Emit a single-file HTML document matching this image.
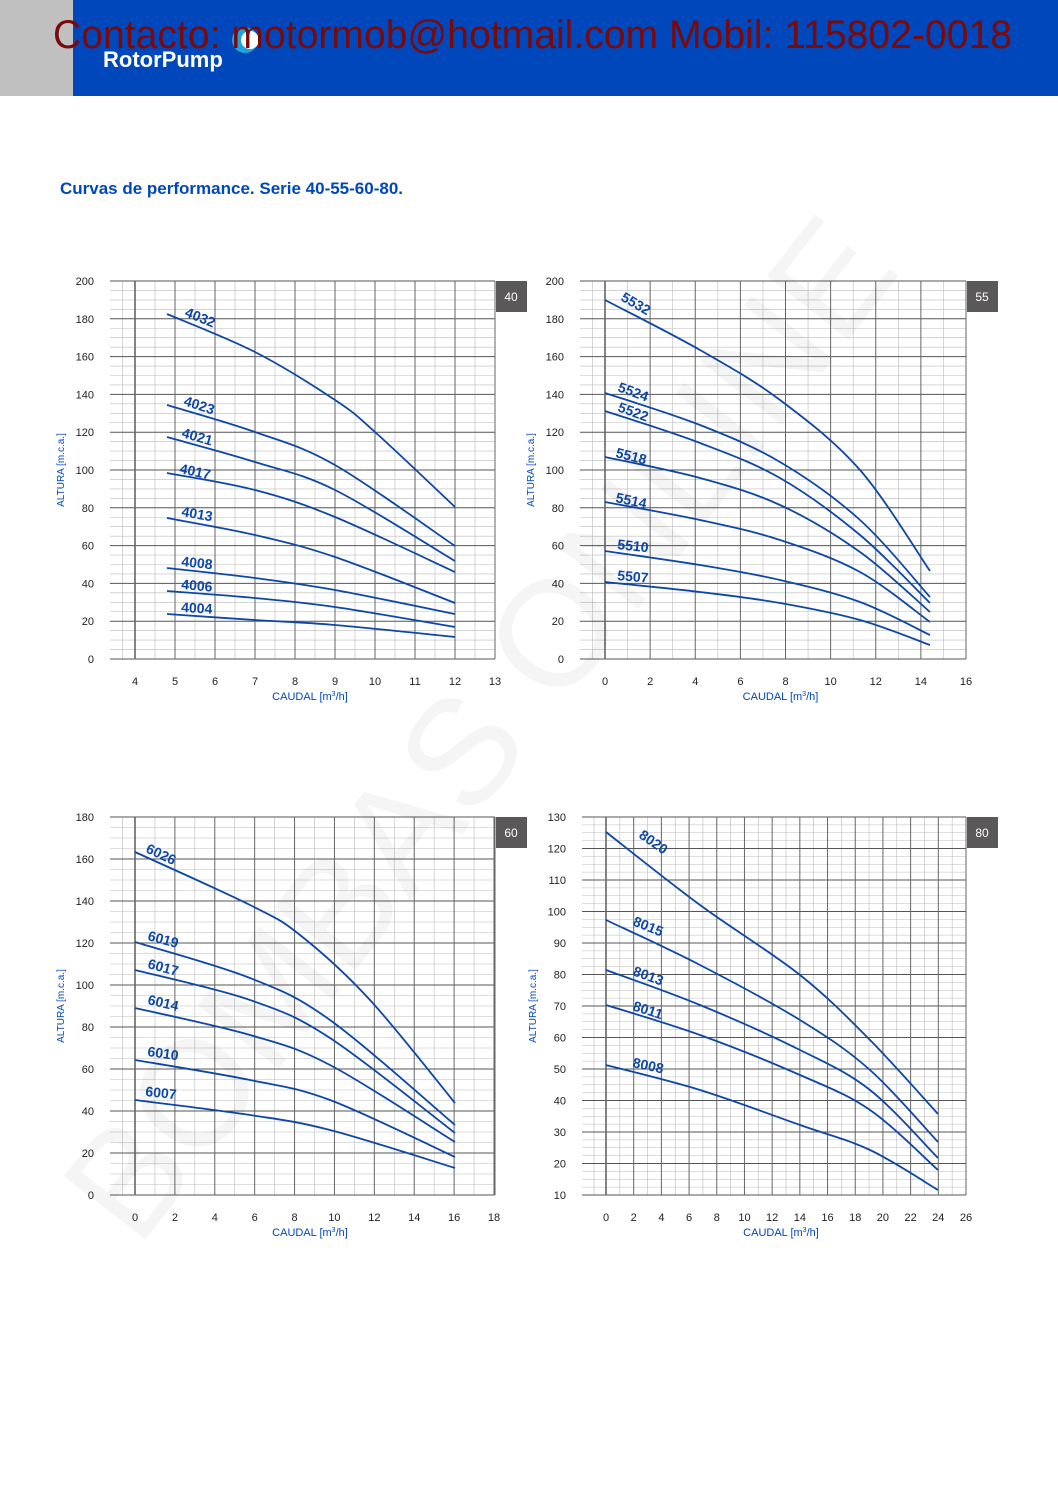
<!DOCTYPE html>
<html><head><meta charset="utf-8"><style>
html,body{margin:0;padding:0;background:#fff;}
body{width:1058px;height:1497px;position:relative;overflow:hidden;font-family:"Liberation Sans",sans-serif;}
</style></head><body>
<svg id="s" width="1058" height="1497" xmlns="http://www.w3.org/2000/svg" style="position:absolute;left:0;top:0">
<rect x="0" y="0" width="73" height="96" fill="#c0c0c0"/>
<rect x="73" y="0" width="985" height="96" fill="#0047bb"/>
<circle cx="245" cy="40" r="13" fill="#1fa3dc"/>
<circle cx="250" cy="40" r="9" fill="#fff"/>
<text x="103" y="67" font-size="22" font-weight="bold" fill="#fff" font-family="Liberation Sans,sans-serif">RotorPump</text>
<text x="53" y="48" font-size="40" fill="#7a0a0a" textLength="959" lengthAdjust="spacingAndGlyphs" font-family="Liberation Sans,sans-serif">Contacto: motormob@hotmail.com Mobil: 115802-0018</text>
<text x="60" y="194" font-size="17" font-weight="bold" fill="#0047bb" font-family="Liberation Sans,sans-serif">Curvas de performance. Serie 40-55-60-80.</text>
<g id="g"></g>
<text x="520" y="760" font-size="150" fill="#000" opacity="0.035" transform="rotate(-52 520 760)" text-anchor="middle" font-family="Liberation Sans,sans-serif">BOMBAS ONLINE</text>
</svg>
<script>
var g=document.getElementById('g'),h='';
function L(x1,y1,x2,y2,c,w){h+='<line x1="'+x1+'" y1="'+y1+'" x2="'+x2+'" y2="'+y2+'" stroke="'+c+'" stroke-width="'+w+'"/>';}
function T(x,y,t,o){o=o||{};h+='<text x="'+x+'" y="'+y+'" font-size="'+(o.s||11)+'" fill="'+(o.c||'#222')+'" text-anchor="'+(o.a||'middle')+'"'+(o.r!=null?' transform="rotate('+o.r+' '+x+' '+y+')"':'')+(o.b?' font-weight="bold"':'')+' font-family="Liberation Sans,sans-serif">'+t+'</text>';}
function smooth(p){var pts=[];for(var i=0;i<p.length;i+=2)pts.push([p[i],p[i+1]]);
 var d='M'+pts[0][0]+','+pts[0][1];
 for(var i=0;i<pts.length-1;i++){var p0=pts[i-1]||pts[i],p1=pts[i],p2=pts[i+1],p3=pts[i+2]||p2;
  d+=' C'+(p1[0]+(p2[0]-p0[0])/6).toFixed(1)+','+(p1[1]+(p2[1]-p0[1])/6).toFixed(1)+' '+(p2[0]-(p3[0]-p1[0])/6).toFixed(1)+','+(p2[1]-(p3[1]-p1[1])/6).toFixed(1)+' '+p2[0]+','+p2[1];}
 return d;}
function chart(c){
 var gl=c.gl,gr=c.gr,yt=c.yt,yb=c.yb;
 var ny=(c.ymax-c.ymin)/c.ystep,dy=(yb-yt)/ny;
 for(var i=0;i<ny;i++)for(var k=1;k<4;k++)L(gl,yt+i*dy+k*dy/4,gr,yt+i*dy+k*dy/4,'#bbb',0.6);
 var nx=c.xs.length;
 for(var i=0;i<nx-1;i++){var mx=(c.xs[i]+c.xs[i+1])/2;L(mx,yt,mx,yb,'#bbb',0.6);}
 if(c.xs[0]-gl>5){L((gl+c.xs[0])/2,yt,(gl+c.xs[0])/2,yb,'#bbb',0.6);}
 for(var i=0;i<=ny;i++){var y=yt+i*dy;L(gl,y,gr,y,'#555',1);T(c.tx,y+4,c.ymax-i*c.ystep,{a:'end'});}
 for(var i=0;i<nx;i++){L(c.xs[i],yt,c.xs[i],yb,'#666',i==0?1.6:1);T(c.xs[i],yb+26,c.xl[i]);}
 L(gr,yt,gr,yb,'#666',1);
 h+='<rect x="'+(gr+1)+'" y="'+yt+'" width="31" height="31" fill="#5a5858"/>';
 T(gr+16,yt+20,c.badge,{c:'#fff',s:12});
 T((c.xs[0]+gr)/2-5,yb+41,'CAUDAL [m<tspan font-size="7" dy="-4">3</tspan><tspan dy="4">/h]</tspan>',{c:'#0047bb',s:11});
 T(c.tx-30,(yt+yb)/2,'ALTURA [m.c.a.]',{c:'#0047bb',s:10,r:-90});
 c.curves.forEach(function(cv){var p=cv[1];
  h+='<path d="'+smooth(p)+'" fill="none" stroke="#0d47a8" stroke-width="1.8" stroke-linejoin="round"/>';
  T(p[0]+cv[2],p[1]+cv[3],cv[0],{c:'#0d47a8',s:14,a:'start',r:cv[4],b:1});});
}
function xs(a,b,n){var r=[];for(var i=0;i<n;i++)r.push(a+(b-a)*i/(n-1));return r;}
chart({gl:110,gr:495,yt:281,yb:659,ymax:200,ymin:0,ystep:20,tx:94,badge:'40',xs:xs(135,495,10),xl:[4,5,6,7,8,9,10,11,12,13],curves:[
['4032',[167,314,255,352,335,400,375,432,455,507],17,2,22],
['4023',[167,405,255,432,335,465,455,546],16,0,18],
['4021',[167,437,255,462,335,490,455,561],14,0,16],
['4017',[167,473,255,490,335,517,455,572],12,0,12],
['4013',[167,518,255,535,335,557,455,603],14,-2,10],
['4008',[167,568,255,578,335,590,455,614],14,-2,6],
['4006',[167,591,255,598,335,607,455,627],14,-2,5],
['4004',[167,614,255,620,335,625,455,637],14,-2,3]]});
chart({gl:580,gr:966,yt:281,yb:659,ymax:200,ymin:0,ystep:20,tx:564,badge:'55',xs:xs(605,966,9),xl:[0,2,4,6,8,10,12,14,16],curves:[
['5532',[605,300,700,350,780,400,860,470,930,571],15,0,30],
['5524',[605,393,700,425,780,462,860,520,930,597],12,-2,20],
['5522',[605,411,700,443,780,478,860,535,930,603],12,0,20],
['5518',[605,457,700,478,780,505,860,552,930,612],10,0,14],
['5514',[605,502,700,520,780,540,860,572,930,622],10,0,12],
['5510',[605,551,700,565,780,580,860,602,930,635],12,-2,6],
['5507',[605,582,700,592,780,603,860,620,930,645],12,-2,5]]});
chart({gl:110,gr:495,yt:817,yb:1195,ymax:180,ymin:0,ystep:20,tx:94,badge:'60',xs:xs(135,494,10),xl:[0,2,4,6,8,10,12,14,16,18],curves:[
['6026',[135,852,250,905,300,935,370,1000,455,1103],10,0,25],
['6019',[135,942,250,978,330,1020,455,1125],12,-2,15],
['6017',[135,970,250,1000,330,1038,455,1133],12,-2,15],
['6014',[135,1008,250,1035,330,1065,455,1142],12,-4,13],
['6010',[135,1060,250,1080,330,1100,455,1157],12,-4,8],
['6007',[135,1100,250,1115,330,1130,455,1168],10,-4,6]]});
chart({gl:582,gr:966,yt:817,yb:1195,ymax:130,ymin:10,ystep:10,tx:566,badge:'80',xs:xs(606,966,14),xl:[0,2,4,6,8,10,12,14,16,18,20,22,24,26],curves:[
['8020',[606,832,700,905,800,975,870,1040,938,1114],32,5,35],
['8015',[606,920,700,965,800,1020,870,1070,938,1142],26,5,22],
['8013',[606,970,700,1005,800,1050,870,1090,938,1158],26,5,20],
['8011',[606,1005,700,1035,800,1075,870,1110,938,1170],26,5,18],
['8008',[606,1065,700,1090,800,1125,870,1150,938,1190],26,2,12]]});
g.innerHTML=h;
</script>
</body></html>
